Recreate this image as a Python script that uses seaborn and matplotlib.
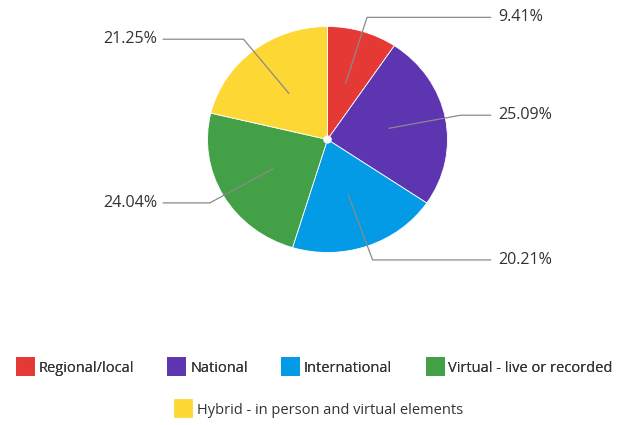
import numpy as np
import matplotlib
matplotlib.use("Agg")
import matplotlib.pyplot as plt
from matplotlib.lines import Line2D
import seaborn as sns

categories = ["Regional/local", "National", "International",
              "Virtual - live or recorded", "Hybrid - in person and virtual elements"]
values = [9.41, 25.09, 20.21, 24.04, 21.25]
labels = ["9.41%", "25.09%", "20.21%", "24.04%", "21.25%"]
colors = ["#E53935", "#5E35B1", "#039BE5", "#43A047", "#FDD835"]

sns.set_theme(style="white")
plt.rcParams["font.family"] = ["Open Sans", "DejaVu Sans"]

W, H = 625, 425
fig = plt.figure(figsize=(W / 100, H / 100), dpi=100)
ax = fig.add_axes([0, 0, 1, 1])

RX, RY = 120.0, 113.0
cx, cy = 327.5, 139.5

wedges, _ = ax.pie(values, colors=sns.color_palette(colors), startangle=90,
                   counterclock=False, radius=1.0,
                   wedgeprops=dict(edgecolor="white", linewidth=0.6))
ax.add_patch(plt.Circle((0, 0), 0.03, color="white", zorder=5))

line_c = "#8a8a8a"
for w, lab in zip(wedges, labels):
    mid = np.deg2rad((w.theta1 + w.theta2) / 2.0)
    x0, y0 = 0.52 * np.cos(mid), 0.52 * np.sin(mid)
    x1, y1 = 1.13 * np.cos(mid), 1.13 * np.sin(mid)
    if np.cos(mid) >= 0:
        x2, xt, ha = 1.36, 1.42, "left"
    else:
        x2, xt, ha = -1.37, -1.42, "right"
    ax.plot([x0, x1, x2], [y0, y1, y1], color=line_c, lw=0.9, zorder=6,
            solid_capstyle="round")
    ax.text(xt, y1, lab, ha=ha, va="center", fontsize=11.6, color="#333333")

ax.set_xlim(-cx / RX, (W - cx) / RX)
ax.set_ylim((cy - H) / RY, cy / RY)
ax.set_aspect("auto")
ax.axis("off")

def handles(idx):
    return [Line2D([0], [0], marker="s", linestyle="none", markersize=12,
                   markerfacecolor=colors[i], markeredgecolor=colors[i],
                   markeredgewidth=2.0, label=categories[i]) for i in idx]

kw = dict(loc="center", frameon=False, fontsize=10.5, handlelength=1.3,
          handletextpad=0.3, columnspacing=2.25, labelcolor="#333333")
leg1 = fig.legend(handles=handles([0, 1, 2, 3]),
                  bbox_to_anchor=(314 / W, 1 - 368 / H), ncol=4, **kw)
for mk in leg1.legend_handles:
    mk.set_solid_joinstyle("round")
fig.add_artist(leg1)
leg2 = fig.legend(handles=handles([4]),
                  bbox_to_anchor=(318 / W, 1 - 410 / H), ncol=1, **kw)

fig.savefig("out.png", dpi=100, facecolor="white")
